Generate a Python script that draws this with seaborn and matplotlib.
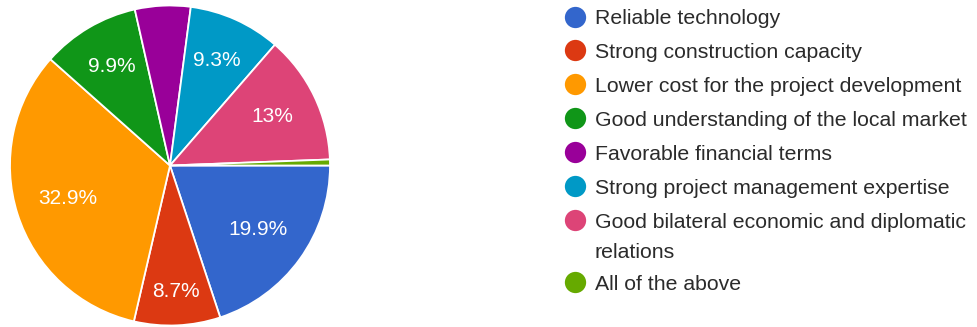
import matplotlib
matplotlib.use("Agg")
import matplotlib.pyplot as plt
import numpy as np
import seaborn as sns

sns.set_theme(style="white")
plt.rcParams["font.family"] = ["Liberation Sans", "DejaVu Sans"]

categories = [
    "Reliable technology",
    "Strong construction capacity",
    "Lower cost for the project development",
    "Good understanding of the local market",
    "Favorable financial terms",
    "Strong project management expertise",
    "Good bilateral economic and diplomatic\nrelations",
    "All of the above",
]
shares = [19.9, 8.7, 32.9, 9.9, 5.6, 9.3, 13.0, 0.6]
colors = ["#3366cc", "#dc3912", "#ff9900", "#109618",
          "#990099", "#0099c6", "#dd4477", "#66aa00"]
palette = sns.color_palette(colors)

W, H = 977, 327
fig = plt.figure(figsize=(W / 100, H / 100), dpi=100)

# pie axes: centre (170, 165.5) px from top-left, radius 160 px
cx, cy, r = 170.0, 165.5, 160.0
ax = fig.add_axes([(cx - r) / W, (H - cy - r) / H, 2 * r / W, 2 * r / H])


def pct_label(v):
    if v < 8:
        return ""
    if abs(v - round(v)) < 1e-9:
        return f"{int(round(v))}%"
    return f"{v:.1f}%"


wedges, _ = ax.pie(
    shares,
    colors=palette,
    startangle=0,
    counterclock=False,
    radius=1.0,
    wedgeprops=dict(edgecolor="white", linewidth=1.3),
)

# radial placement of each percentage label (narrow wedges push it outward)
label_dist = [0.68, 0.79, 0.67, 0.72, 0.7, 0.72, 0.71, 0.7]
for w, v, d in zip(wedges, shares, label_dist):
    txt = pct_label(v)
    if not txt:
        continue
    mid = np.deg2rad((w.theta1 + w.theta2) / 2)
    ax.text(d * np.cos(mid), d * np.sin(mid), txt, ha="center", va="center",
            color="white", fontsize=15)

ax.set_xlim(-1, 1)
ax.set_ylim(-1, 1)
ax.set_aspect("auto")
ax.axis("off")

# legend drawn in a full-figure overlay in pixel coordinates
lax = fig.add_axes([0, 0, 1, 1])
lax.set_xlim(0, W)
lax.set_ylim(H, 0)
lax.axis("off")
text_kw = dict(ha="left", va="baseline", fontsize=15.3, color="#2b2b2b")
row_y = [17, 50, 84, 118, 152, 186, 220, 282]
for y, lab, c in zip(row_y, categories, palette):
    lax.scatter([575], [y], s=235, color=c, linewidths=0)
    for i, line in enumerate(lab.split("\n")):
        lax.text(595, y + 7.5 + 30 * i, line, **text_kw)

fig.savefig("out.png", dpi=100)
